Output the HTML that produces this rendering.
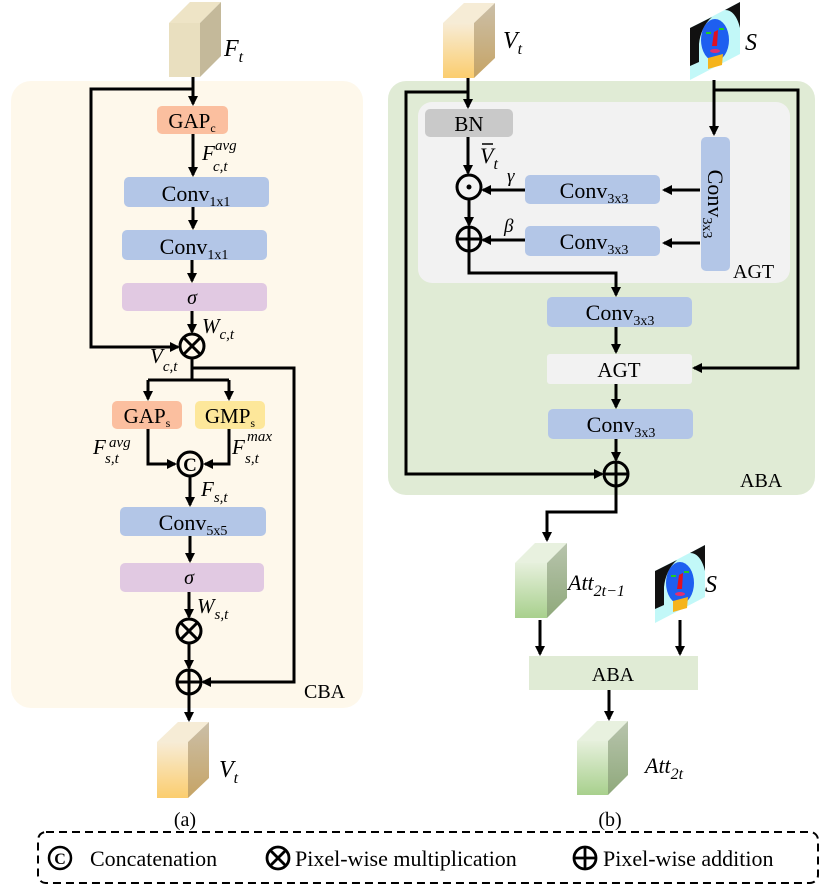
<!DOCTYPE html>
<html><head><meta charset="utf-8"><style>
html,body{margin:0;padding:0;background:#fff;}
svg{display:block;}
text{font-family:"Liberation Serif","Times New Roman",serif;fill:#000;}
.m{font-style:italic;}
</style></head><body>
<svg width="830" height="888" viewBox="0 0 830 888" xmlns="http://www.w3.org/2000/svg" font-family="Liberation Serif, Times New Roman, serif">
<defs>
<marker id="ar" markerWidth="10" markerHeight="10" refX="8" refY="5" orient="auto" markerUnits="userSpaceOnUse"><path d="M0,0 L10,5 L0,10 z" fill="#000"/></marker>
<linearGradient id="gy" x1="0" y1="0" x2="0" y2="1"><stop offset="0" stop-color="#f7ecd6"/><stop offset="1" stop-color="#fbcd6e"/></linearGradient>
<linearGradient id="gys" x1="0" y1="0" x2="0" y2="1"><stop offset="0" stop-color="#cbbfa8"/><stop offset="1" stop-color="#c6a465"/></linearGradient>
<linearGradient id="gg" x1="0" y1="0" x2="0" y2="1"><stop offset="0" stop-color="#e6f0dc"/><stop offset="1" stop-color="#a8d08d"/></linearGradient>
<linearGradient id="ggs" x1="0" y1="0" x2="0" y2="1"><stop offset="0" stop-color="#b8c4ad"/><stop offset="1" stop-color="#8fa97b"/></linearGradient>
<g id="face">
<path d="M0,26 L50,0 L50,52 L0,78 z" fill="#c2f8f8"/>
<path d="M0,26 L22,15 C14,22 10,32 9,42 L9,60 L0,64 z" fill="#111"/>
<path d="M50,0 L50,26 C47,14 42,8 35,8 z" fill="#111"/>
<ellipse cx="25" cy="38" rx="14" ry="21" fill="#1e5ff0"/>
<path d="M18,56 L33,52 L32,63 L18,67 z" fill="#f5b41c"/>
<path d="M24,30 L28,28 L27,44 L22,44 z" fill="#e01020"/>
<rect x="16" y="30" width="5" height="2" fill="#2c2"/><rect x="29" y="26" width="5" height="2" fill="#2c2"/>
<ellipse cx="25" cy="49" rx="5" ry="2" fill="#e03070"/>
</g>
</defs>

<!-- Left panel -->
<rect x="11" y="81" width="352" height="627" rx="20" fill="#fef8eb"/>
<path d="M169,23 L190,2 L221,2 L200,23 z" fill="#eee4c6"/>
<path d="M200,23 L221,2 L221,56 L200,77 z" fill="#c4b99a"/>
<rect x="169" y="23" width="31" height="54" fill="#e9dfbf"/>
<text x="224" y="56" font-size="24" class="m">F<tspan dy="6" font-size="16">t</tspan></text>

<g stroke="#000" stroke-width="3" fill="none">
<line x1="193" y1="77" x2="193" y2="104" marker-end="url(#ar)"/>
<polyline points="193,89 91,89 91,347 178,347" marker-end="url(#ar)"/>
<line x1="193" y1="134" x2="193" y2="175" marker-end="url(#ar)"/>
<line x1="193" y1="207" x2="193" y2="228" marker-end="url(#ar)"/>
<line x1="192" y1="260" x2="192" y2="281" marker-end="url(#ar)"/>
<line x1="192" y1="311" x2="192" y2="332" marker-end="url(#ar)"/>
<line x1="192" y1="358" x2="192" y2="380"/>
<line x1="148" y1="380" x2="229" y2="380"/>
<line x1="148" y1="380" x2="148" y2="399" marker-end="url(#ar)"/>
<line x1="229" y1="380" x2="229" y2="399" marker-end="url(#ar)"/>
<polyline points="192,368 294,368 294,682 203,682" marker-end="url(#ar)"/>
<polyline points="148,429 148,464 175,464" marker-end="url(#ar)"/>
<polyline points="229,429 229,464 205,464" marker-end="url(#ar)"/>
<line x1="190" y1="477" x2="190" y2="505" marker-end="url(#ar)"/>
<line x1="190" y1="536" x2="190" y2="561" marker-end="url(#ar)"/>
<line x1="189" y1="592" x2="189" y2="617" marker-end="url(#ar)"/>
<line x1="189" y1="643" x2="189" y2="668" marker-end="url(#ar)"/>
<line x1="189" y1="694" x2="189" y2="720" marker-end="url(#ar)"/>
</g>
<rect x="157" y="106" width="71" height="28" rx="5" fill="#fbbf9f"/>
<text x="192" y="128" font-size="21" text-anchor="middle">GAP<tspan dy="4" font-size="12">c</tspan></text>
<text x="202" y="160" font-size="21" class="m">F</text><text x="215" y="150" font-size="15" class="m">avg</text><text x="213" y="171" font-size="15" class="m">c,t</text>
<rect x="124" y="177" width="145" height="30" rx="5" fill="#b3c6e7"/>
<text x="196" y="201" font-size="22" text-anchor="middle">Conv<tspan dy="5" font-size="14">1x1</tspan></text>
<rect x="122" y="230" width="145" height="30" rx="5" fill="#b3c6e7"/>
<text x="194" y="254" font-size="22" text-anchor="middle">Conv<tspan dy="5" font-size="14">1x1</tspan></text>
<rect x="122" y="283" width="145" height="28" rx="5" fill="#e1c9e2"/>
<text x="192" y="304" font-size="20" class="m" text-anchor="middle">σ</text>
<text x="202" y="333" font-size="21" class="m">W<tspan dy="6" font-size="15">c,t</tspan></text>
<text x="150" y="363" font-size="21" class="m">V<tspan dy="8" font-size="15">c,t</tspan></text>
<g stroke="#000" stroke-width="3" fill="#fef8eb">
<circle cx="192" cy="346" r="12"/>
<line x1="183.5" y1="337.5" x2="200.5" y2="354.5"/><line x1="200.5" y1="337.5" x2="183.5" y2="354.5"/>
</g>
<rect x="112" y="401" width="70" height="28" rx="5" fill="#fbbf9f"/>
<text x="147" y="423" font-size="21" text-anchor="middle">GAP<tspan dy="4" font-size="12">s</tspan></text>
<rect x="195" y="401" width="70" height="28" rx="5" fill="#fde79a"/>
<text x="230" y="423" font-size="21" text-anchor="middle">GMP<tspan dy="4" font-size="12">s</tspan></text>
<text x="93" y="454" font-size="21" class="m">F</text><text x="109" y="447" font-size="15" class="m">avg</text><text x="105" y="463" font-size="15" class="m">s,t</text>
<text x="232" y="454" font-size="21" class="m">F</text><text x="247" y="441" font-size="15" class="m">max</text><text x="245" y="463" font-size="15" class="m">s,t</text>
<circle cx="190" cy="464" r="12" stroke="#000" stroke-width="3" fill="#fef8eb"/>
<text x="190" y="471" font-size="19" text-anchor="middle" font-weight="bold">C</text>
<text x="201" y="496" font-size="21" class="m">F<tspan dy="6" font-size="15">s,t</tspan></text>
<rect x="120" y="507" width="146" height="29" rx="5" fill="#b3c6e7"/>
<text x="193" y="530" font-size="22" text-anchor="middle">Conv<tspan dy="5" font-size="14">5x5</tspan></text>
<rect x="120" y="563" width="144" height="29" rx="5" fill="#e1c9e2"/>
<text x="189" y="584" font-size="20" class="m" text-anchor="middle">σ</text>
<text x="197" y="613" font-size="21" class="m">W<tspan dy="6" font-size="15">s,t</tspan></text>
<g stroke="#000" stroke-width="3" fill="#fef8eb">
<circle cx="189" cy="631" r="12"/>
<line x1="180.5" y1="622.5" x2="197.5" y2="639.5"/><line x1="197.5" y1="622.5" x2="180.5" y2="639.5"/>
<circle cx="189" cy="682" r="12"/>
<line x1="177" y1="682" x2="201" y2="682"/><line x1="189" y1="670" x2="189" y2="694"/>
</g>
<text x="304" y="698" font-size="20">CBA</text>
<path d="M157,742 L178,722 L209,722 L188,742 z" fill="#f6ecd6"/>
<path d="M188,742 L209,722 L209,778 L188,798 z" fill="url(#gys)"/>
<rect x="157" y="742" width="31" height="56" fill="url(#gy)"/>
<text x="219" y="777" font-size="24" class="m">V<tspan dy="6" font-size="16">t</tspan></text>
<text x="185" y="826" font-size="20" text-anchor="middle">(a)</text>

<!-- Right panel -->
<rect x="388" y="81" width="427" height="414" rx="18" fill="#e0ebd5"/>
<rect x="418" y="102" width="372" height="181" rx="14" fill="#f2f2f2"/>
<path d="M443,23 L464,3 L495,3 L474,23 z" fill="#f6ecd6"/>
<path d="M474,23 L495,3 L495,58 L474,78 z" fill="url(#gys)"/>
<rect x="443" y="23" width="31" height="55" fill="url(#gy)"/>
<text x="503" y="48" font-size="24" class="m">V<tspan dy="6" font-size="16">t</tspan></text>
<use href="#face" x="690" y="2"/>
<text x="745" y="50" font-size="24" class="m">S</text>

<g stroke="#000" stroke-width="3" fill="none">
<line x1="468" y1="78" x2="468" y2="107" marker-end="url(#ar)"/>
<polyline points="468,92 406,92 406,474 602,474" marker-end="url(#ar)"/>
<line x1="468" y1="137" x2="468" y2="173" marker-end="url(#ar)"/>
<line x1="469" y1="199" x2="469" y2="225" marker-end="url(#ar)"/>
<line x1="525" y1="190" x2="483" y2="190" marker-end="url(#ar)"/>
<line x1="525" y1="240" x2="483" y2="240" marker-end="url(#ar)"/>
<line x1="700" y1="190" x2="664" y2="190" marker-end="url(#ar)"/>
<line x1="700" y1="243" x2="664" y2="243" marker-end="url(#ar)"/>
<line x1="714" y1="80" x2="714" y2="134" marker-end="url(#ar)"/>
<polyline points="714,90 798,90 798,368 694,368" marker-end="url(#ar)"/>
<polyline points="469,251 469,273 616,273 616,295" marker-end="url(#ar)"/>
<line x1="616" y1="327" x2="616" y2="352" marker-end="url(#ar)"/>
<line x1="616" y1="384" x2="616" y2="407" marker-end="url(#ar)"/>
<line x1="616" y1="439" x2="616" y2="460" marker-end="url(#ar)"/>
<polyline points="616,486 616,512 547,512 547,540" marker-end="url(#ar)"/>
</g>
<rect x="425" y="109" width="88" height="28" rx="5" fill="#c9c9c9"/>
<text x="469" y="131" font-size="21" text-anchor="middle">BN</text>
<text x="480" y="163" font-size="22" class="m">V<tspan dy="6" font-size="16">t</tspan></text><line x1="482" y1="144" x2="493" y2="144" stroke="#000" stroke-width="1.5"/>
<text x="507" y="182" font-size="19" class="m">γ</text>
<text x="504" y="232" font-size="19" class="m">β</text>
<g stroke="#000" stroke-width="3" fill="#f2f2f2">
<circle cx="469" cy="187" r="12"/>
<circle cx="469" cy="239" r="12"/>
<line x1="457" y1="239" x2="481" y2="239"/><line x1="469" y1="227" x2="469" y2="251"/>
</g>
<circle cx="469" cy="187" r="2.5" fill="#000"/>
<rect x="525" y="175" width="135" height="29" rx="5" fill="#b3c6e7"/>
<text x="594" y="198" font-size="22" text-anchor="middle">Conv<tspan dy="5" font-size="14">3x3</tspan></text>
<rect x="525" y="226" width="135" height="30" rx="5" fill="#b3c6e7"/>
<text x="594" y="249" font-size="22" text-anchor="middle">Conv<tspan dy="5" font-size="14">3x3</tspan></text>
<rect x="701" y="137" width="29" height="134" rx="5" fill="#b3c6e7"/>
<g transform="translate(708,204) rotate(90)"><text x="0" y="0" font-size="22" text-anchor="middle">Conv<tspan dy="5" font-size="14">3x3</tspan></text></g>
<text x="733" y="278" font-size="20">AGT</text>
<rect x="547" y="297" width="145" height="30" rx="5" fill="#b3c6e7"/>
<text x="620" y="320" font-size="22" text-anchor="middle">Conv<tspan dy="5" font-size="14">3x3</tspan></text>
<rect x="547" y="354" width="145" height="30" rx="3" fill="#f2f2f2"/>
<text x="619" y="377" font-size="21" text-anchor="middle">AGT</text>
<rect x="548" y="409" width="145" height="30" rx="5" fill="#b3c6e7"/>
<text x="621" y="432" font-size="22" text-anchor="middle">Conv<tspan dy="5" font-size="14">3x3</tspan></text>
<g stroke="#000" stroke-width="3" fill="#e0ebd5">
<circle cx="616" cy="474" r="12"/>
<line x1="604" y1="474" x2="628" y2="474"/><line x1="616" y1="462" x2="616" y2="486"/>
</g>
<text x="740" y="487" font-size="20">ABA</text>

<path d="M515,563 L535,543 L567,543 L547,563 z" fill="#e8f1df"/>
<path d="M547,563 L567,543 L567,598 L547,618 z" fill="url(#ggs)"/>
<rect x="515" y="563" width="32" height="55" fill="url(#gg)"/>
<text x="568" y="590" font-size="22" class="m">Att<tspan dy="6" font-size="16">2t−1</tspan></text>
<use href="#face" x="655" y="545"/>
<text x="705" y="592" font-size="24" class="m">S</text>
<g stroke="#000" stroke-width="3" fill="none">
<line x1="540" y1="620" x2="540" y2="654" marker-end="url(#ar)"/>
<line x1="680" y1="620" x2="680" y2="654" marker-end="url(#ar)"/>
<line x1="609" y1="690" x2="609" y2="719" marker-end="url(#ar)"/>
</g>
<rect x="529" y="656" width="169" height="34" fill="#e0ebd5"/>
<text x="613" y="681" font-size="20" text-anchor="middle">ABA</text>
<path d="M577,741 L597,721 L628,721 L608,741 z" fill="#e8f1df"/>
<path d="M608,741 L628,721 L628,775 L608,795 z" fill="url(#ggs)"/>
<rect x="577" y="741" width="31" height="54" fill="url(#gg)"/>
<text x="645" y="773" font-size="22" class="m">Att<tspan dy="6" font-size="16">2t</tspan></text>
<text x="610" y="826" font-size="20" text-anchor="middle">(b)</text>

<!-- Legend -->
<rect x="38" y="832" width="780" height="51" rx="8" fill="none" stroke="#000" stroke-width="2" stroke-dasharray="8,5"/>
<circle cx="60" cy="858" r="11" stroke="#000" stroke-width="2.5" fill="#fff"/>
<text x="60" y="864" font-size="16" text-anchor="middle" font-weight="bold">C</text>
<text x="90" y="866" font-size="22">Concatenation</text>
<g stroke="#000" stroke-width="2.8" fill="#fff">
<circle cx="278" cy="858" r="11"/>
<line x1="270" y1="850" x2="286" y2="866"/><line x1="286" y1="850" x2="270" y2="866"/>
<circle cx="585" cy="858" r="11"/>
<line x1="574" y1="858" x2="596" y2="858"/><line x1="585" y1="847" x2="585" y2="869"/>
</g>
<text x="295" y="866" font-size="22">Pixel-wise multiplication</text>
<text x="603" y="866" font-size="22">Pixel-wise addition</text>
</svg>
</body></html>
